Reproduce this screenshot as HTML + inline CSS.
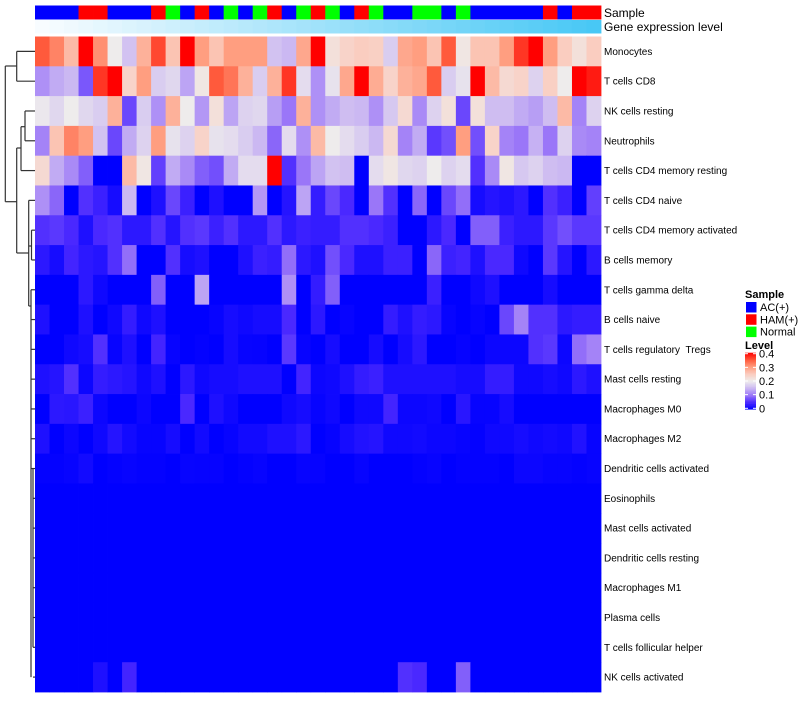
<!DOCTYPE html>
<html><head><meta charset="utf-8"><style>
body{margin:0;background:#fff;}
svg text{font-family:"Liberation Sans",sans-serif;}
</style></head><body>
<svg id="chart" width="800" height="700" viewBox="0 0 800 700" xmlns="http://www.w3.org/2000/svg">
<g id="dendro" fill="none" stroke="#333" stroke-width="1.2"></g>
<g id="anno"></g>
<g id="cells"></g>
<g id="rowlabels" font-size="10" fill="#000"></g>
<text x="604" y="17" font-size="12">Sample</text>
<text x="604" y="31" font-size="12">Gene expression level</text>
<g id="legend"></g>
</svg>
<script>
const rowNames=["Monocytes","T cells CD8","NK cells resting","Neutrophils","T cells CD4 memory resting","T cells CD4 naive","T cells CD4 memory activated","B cells memory","T cells gamma delta","B cells naive","T cells regulatory  Tregs","Mast cells resting","Macrophages M0","Macrophages M2","Dendritic cells activated","Eosinophils","Mast cells activated","Dendritic cells resting","Macrophages M1","Plasma cells","T cells follicular helper","NK cells activated"];
const sampleGroups="AAAHHAAAHNAHANANHANHNAHNAANNANAAAAAHAHH".split("");
const monocytes=[.35,.32,.27,.4,.31,.2,.16,.28,.36,.26,.4,.3,.26,.3,.3,.3,.16,.15,.29,.4,.22,.24,.25,.245,.17,.29,.3,.26,.35,.21,.26,.26,.3,.37,.4,.3,.25,.22,.25];
const cd8=[.12,.14,.15,.08,.37,.4,.24,.3,.17,.18,.135,.21,.35,.33,.28,.17,.28,.37,.185,.12,.19,.29,.4,.285,.24,.28,.29,.35,.17,.19,.4,.27,.23,.24,.175,.245,.2,.4,.385];
const nkResting=[.195,.18,.2,.18,.17,.28,.07,.17,.12,.28,.2,.125,.22,.135,.175,.18,.13,.1,.28,.12,.14,.155,.15,.12,.165,.23,.115,.175,.22,.07,.22,.155,.155,.14,.13,.155,.27,.11,.175];
const neutrophils=[.11,.26,.32,.3,.16,.07,.14,.175,.3,.19,.175,.24,.19,.185,.17,.15,.09,.185,.12,.27,.2,.185,.17,.15,.23,.11,.14,.06,.075,.3,.075,.24,.11,.1,.145,.1,.175,.115,.11];
const cd4MemRest=[.23,.14,.115,.085,0,0,.27,.21,.065,.14,.115,.085,.075,.14,.185,.185,.4,.055,.1,.135,.16,.155,0,.185,.21,.18,.175,.2,.175,.185,.055,.115,.21,.165,.175,.155,.15,0,0];
const cd4Naive=[.12,.09,0,.055,.04,.015,.15,0,.02,.07,.04,0,.02,0,0,.125,0,.025,.135,.035,.07,.05,0,.1,.055,0,.09,0,.07,.095,.015,.025,.02,.03,0,.055,.04,0,.065];
const cd4MemAct=[.055,.06,.05,.02,.05,.055,.03,.03,.055,.025,.055,.06,.04,.055,.03,.03,.055,.03,.04,.035,.035,.055,.055,.05,.04,0,0,.03,.05,0,.085,.085,.04,.03,.03,.06,.075,.06,.06];
const bMemory=[.03,.015,.045,.03,.025,.055,.095,0,0,.055,.015,.02,0,0,.02,.04,.035,.095,.03,.02,.075,.05,.02,.02,.04,.04,0,.09,.04,.045,.02,.05,.05,.01,0,.06,.025,0,.03];
const gammaDelta=[0,0,0,.03,.01,0,0,0,.085,0,0,.135,0,0,0,0,0,.12,0,.035,.085,0,0,0,0,0,0,.04,0,0,.01,.02,0,0,0,.015,0,0,0];
const bNaive=[.02,0,0,.02,0,.01,.035,.01,.02,0,0,0,.005,.015,.01,.015,.015,.05,0,.03,0,.005,0,0,.035,.02,.035,.03,.005,0,.005,0,.07,.11,.055,.055,.03,.035,.035];
const tregs=[0,0,.01,.015,.055,.005,.02,0,.045,.005,0,.003,0,.015,.005,.004,0,.06,.005,0,.015,0,0,.015,0,.015,.03,0,0,.004,0,.008,.008,.008,.055,.06,.008,.095,.11];
const mastResting=[.02,.025,.055,.008,.035,.03,.025,.01,.02,0,.03,.01,.015,.015,.02,.02,.02,0,.045,.008,.01,.02,.035,.04,.02,.02,.02,.02,.02,.015,.015,.035,.035,.01,.01,.015,.01,.03,.02];
const macM0=[0,.03,.028,.04,.008,0,0,.008,0,0,.05,0,.02,.01,0,0,0,.01,.015,.005,.01,0,.01,.01,.045,.008,.008,.01,0,.028,.005,.005,.015,0,0,0,0,0,0];
const macM2=[.02,0,.008,0,.01,.025,.012,.005,.005,.015,0,.012,0,.005,.012,.012,.02,.02,.03,0,.004,.015,.022,.025,.01,.01,.012,.008,.008,.005,.003,.01,.01,.015,.01,.013,.01,.022,.005];
const dcActivated=[.003,.003,.005,.012,0,.003,.005,.003,.003,0,.005,.004,.004,0,.003,.005,0,0,.005,.004,0,0,.005,0,0,0,.003,.005,0,.003,.003,.003,0,.008,.008,.005,.005,.003,.005];
const zeros=[0,0,0,0,0,0,0,0,0,0,0,0,0,0,0,0,0,0,0,0,0,0,0,0,0,0,0,0,0,0,0,0,0,0,0,0,0,0,0];
const nkActivated=[0,0,0,0,.02,0,.045,0,0,0,0,0,0,0,0,0,0,0,0,0,0,0,0,0,0,.055,.05,0,0,.085,0,0,0,0,0,0,0,0,0];
const matrix=[monocytes,cd8,nkResting,neutrophils,cd4MemRest,cd4Naive,cd4MemAct,bMemory,gammaDelta,bNaive,tregs,mastResting,macM0,macM2,dcActivated,zeros,zeros,zeros,zeros,zeros,zeros,nkActivated];
const levelTicks=[0,0.1,0.2,0.3,0.4];
const groupLabels=["AC(+)","HAM(+)","Normal"];

const NS="http://www.w3.org/2000/svg";
const X0=35,X1=601,Y0=36.5,Y1=692;
const nC=sampleGroups.length,nR=rowNames.length;
const cw=(X1-X0)/nC,rh=(Y1-Y0)/nR;
const xPos=i=>X0+i*cw, yPos=j=>Y0+j*rh;
const groupColor={A:"#0000FF",H:"#FF0000",N:"#00FF00"};
const stops=[[0,[0,0,255]],[0.05,[74,40,255]],[0.1,[154,118,248]],[0.15,[203,184,242]],[0.2,[238,236,236]],[0.25,[250,205,192]],[0.3,[255,158,128]],[0.35,[255,90,60]],[0.4,[255,0,0]]];
function colorOf(v){v=Math.max(0,Math.min(0.4,v));for(let k=1;k<stops.length;k++){if(v<=stops[k][0]){const a=stops[k-1],b=stops[k];const t=(v-a[0])/(b[0]-a[0]);const c=a[1].map((x,i)=>Math.round(x+(b[1][i]-x)*t));return `rgb(${c})`;}}return "rgb(255,0,0)";}
function mk(tag,attrs,parent){const e=document.createElementNS(NS,tag);for(const k in attrs)e.setAttribute(k,attrs[k]);parent.appendChild(e);return e;}

const cells=document.getElementById("cells");
matrix.forEach((row,j)=>row.forEach((v,i)=>{
  const r=mk("rect",{x:xPos(i),y:yPos(j),width:cw+0.4,height:rh+0.4,fill:colorOf(v)},cells);
  
  
}));
const anno=document.getElementById("anno");
sampleGroups.forEach((g,i)=>{
  const r=mk("rect",{x:xPos(i),y:5.5,width:cw+0.4,height:14,fill:groupColor[g]},anno);
  
  
  const t=i/(nC-1);
  const c=[Math.round(248+(72-248)*t),Math.round(252+(200-252)*t),Math.round(255+(245-255)*t)];
  const r2=mk("rect",{x:xPos(i),y:20,width:cw+0.4,height:13.5,fill:`rgb(${c})`},anno);
  
  
});
const rl=document.getElementById("rowlabels");
rowNames.forEach((n,j)=>{
  const t=mk("text",{x:604,y:yPos(j)+rh/2+3.5},rl);t.textContent=n.replace(/  /g," \u00A0");
  
  
});
const d=document.getElementById("dendro");
const cy=j=>yPos(j)+rh/2;
const segs=[
 [16.7,cy(0),35,cy(0)],[16.7,cy(1),35,cy(1)],[16.7,cy(0),16.7,cy(1)],
 [5.3,66,16.7,66],[5.3,66,5.3,201.7],[5.3,201.7,16.7,201.7],
 [16.7,148,16.7,253],[16.7,148,21,148],[21,126.7,21,cy(4)],[21,cy(4),35,cy(4)],
 [21,126.7,25,126.7],[25,cy(2),25,cy(3)],[25,cy(2),35,cy(2)],[25,cy(3),35,cy(3)],
 [16.7,253,28.7,253],[28.7,cy(5),28.7,306],[28.7,cy(5),35,cy(5)],
 [28.7,246,31.5,246],[31.5,cy(6),31.5,cy(7)],[31.5,cy(6),35,cy(6)],[31.5,cy(7),35,cy(7)],
 [28.7,306,31,306],[31,cy(8),31,cy(21)]
];
for(let j=8;j<22;j++){segs.push([j<15?31:33,cy(j),35,cy(j)]);}
segs.push([33,cy(14),33,cy(20)]);
segs.forEach(s=>{const l=mk("line",{x1:s[0],y1:s[1],x2:s[2],y2:s[3]},d);
  
  });
const lg=document.getElementById("legend");
let t=mk("text",{x:745,y:298,"font-size":11,"font-weight":"bold"},lg);t.textContent="Sample";


["A","H","N"].forEach((g,k)=>{
  const r=mk("rect",{x:746,y:302+k*12.3,width:10.5,height:10.5,fill:groupColor[g]},lg);
  
  
  const tx=mk("text",{x:760,y:311+k*12.3,"font-size":11},lg);tx.textContent=groupLabels[k];
  
  
});
t=mk("text",{x:745,y:349,"font-size":11,"font-weight":"bold"},lg);t.textContent="Level";


const bTop=352.7,bBot=409.3,vMax=0.4;
const vy=v=>bBot-(v/vMax)*(bBot-bTop-2)-1;
for(let k=0;k<40;k++){const v0=(k/40)*vMax;
  const r=mk("rect",{x:745,y:bBot-(k+1)*(bBot-bTop)/40,width:11,height:(bBot-bTop)/40+0.3,fill:colorOf(v0+0.005)},lg);
  
  }
levelTicks.forEach(v=>{
  const l=mk("line",{x1:745,x2:748,y1:vy(v),y2:vy(v),stroke:"#fff","stroke-width":1},lg);
  
  
  const l2=mk("line",{x1:753,x2:756,y1:vy(v),y2:vy(v),stroke:"#fff","stroke-width":1},lg);
  
  
  const tx=mk("text",{x:759,y:vy(v)+4,"font-size":11},lg);tx.textContent=String(v);
  
  
});
</script>
</body></html>
